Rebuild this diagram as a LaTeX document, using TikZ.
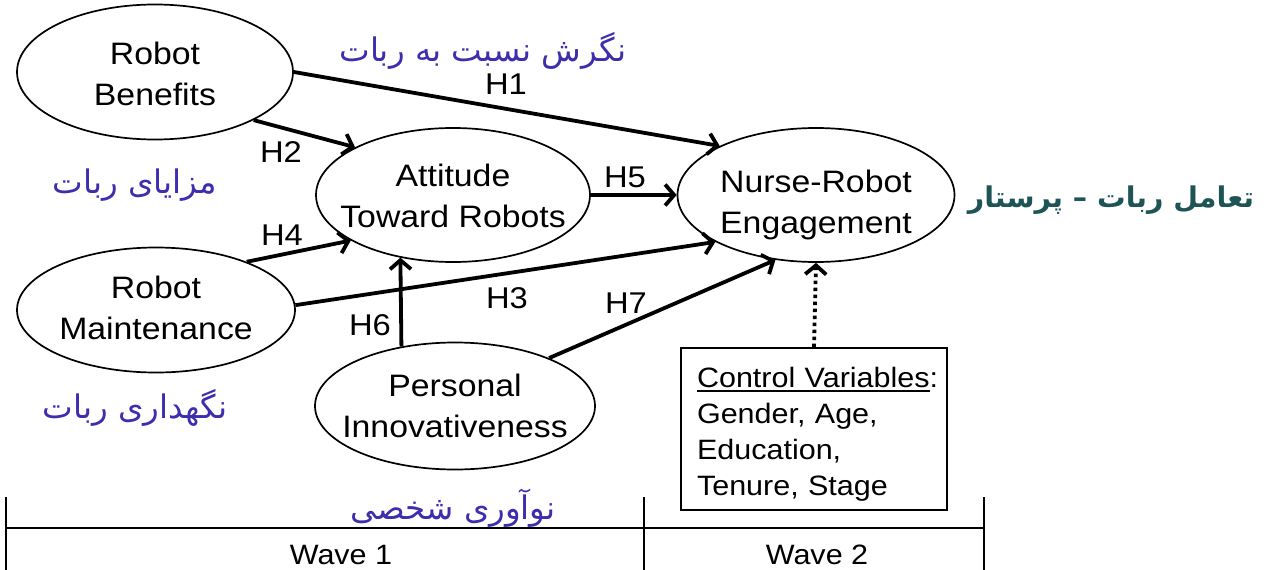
\documentclass[tikz,border=0pt]{standalone}
\usepackage{fontspec}
\setmainfont[FakeStretch=1.09]{Liberation Sans}
\newfontfamily\arabicfont[Script=Arabic]{DejaVu Sans}
\TeXXeTstate=1
\usetikzlibrary{shapes.geometric,arrows.meta}
\definecolor{fapurple}{RGB}{60,46,172}
\definecolor{fateal}{RGB}{30,84,86}
\newcommand{\myul}[1]{\setbox0=\hbox{#1}\rlap{\rule[-4.5pt]{\wd0}{2pt}}\box0}
\begin{document}
\begin{tikzpicture}[x=1pt,y=-1pt,
  construct/.style={ellipse,draw,line width=1.7pt,inner sep=0pt},
  ctext/.style={font=\fontsize{31}{41}\selectfont,align=center,text depth=0pt,inner sep=0pt},
  arr/.style={line width=3.8pt,-{Straight Barb[length=9pt,width=21pt]}},
  darr/.style={line width=3.8pt,dash pattern=on 3.5pt off 3.5pt,-{Straight Barb[length=9pt,width=21pt]}},
  hlab/.style={font=\fontsize{30}{34}\selectfont,inner sep=0pt},
  wlab/.style={font=\fontsize{28}{34}\selectfont,inner sep=0pt},
  fa/.style={font=\fontsize{32.5}{38}\selectfont\arabicfont,text=fapurple,inner sep=0pt},
  tl/.style={line width=1.8pt},
]
\useasboundingbox (0,0) rectangle (1267,570);

% constructs
\node[construct,minimum width=276pt,minimum height=135pt] (rb) at (155,72) {};
\node[ctext] (rbt) at (155,74) {Robot\\Benefits};
\node[construct,minimum width=274pt,minimum height=134pt] (att) at (453,195) {};
\node[ctext] (attt) at (453,196) {Attitude\\Toward Robots};
\node[construct,minimum width=277pt,minimum height=134pt] (ne) at (816,195) {};
\node[ctext] (net) at (816,202) {Nurse-Robot\\Engagement};
\node[construct,minimum width=278pt,minimum height=125pt] (rm) at (156,310) {};
\node[ctext] (rmt) at (156,308) {Robot\\Maintenance};
\node[construct,minimum width=280pt,minimum height=127pt] (pi) at (455,406) {};
\node[ctext] (pit) at (455,406) {Personal\\Innovativeness};

% control box
\node[draw,line width=1.7pt,minimum width=266pt,minimum height=162pt,text width=234pt,
      inner xsep=16pt,inner ysep=0pt,align=left,
      font=\fontsize{28}{36}\selectfont] (box) at (814,429)
  {\rule{0pt}{30pt}\myul{Control Variables}:\\Gender, Age,\\Education,\\Tenure, Stage};

% connectors
\draw[arr] (rb.east) -- (ne.153.7);
\draw[arr] (rb.-26) -- (att.154.4);
\draw[arr] (rm.28.6) -- (att.204.7);
\draw[arr] (rm.2.9) -- (ne.205);
\draw[arr] (att.east) -- (ne.west);
\draw[arr] (pi.132) -- (att.230.65);
\draw[arr] (pi.27.7) -- (ne.238.3);
\draw[darr] (box.north) -- (ne.south);

% hypothesis labels
\node[hlab] (h1) at (506,84) {H1};
\node[hlab] (h2) at (281,152) {H2};
\node[hlab] (h3) at (507,298) {H3};
\node[hlab] (h4) at (282,235) {H4};
\node[hlab] (h5) at (625,177) {H5};
\node[hlab] (h6) at (370,325) {H6};
\node[hlab] (h7) at (626,303) {H7};

% timeline
\coordinate (t0) at (6,528);
\coordinate (t1) at (644,528);
\coordinate (t2) at (984,528);
\draw[tl] (t0) -- (t2);
\draw[tl] (6,497) -- (6,570);
\draw[tl] (644,497) -- (644,570);
\draw[tl] (984,497) -- (984,570);
\node[wlab] (w1) at (341,555) {Wave 1};
\node[wlab] (w2) at (817,555) {Wave 2};

% Persian labels
\node[fa] (p1) at (483,51) {\beginR نگرش نسبت به ربات\endR};
\node[fa] (p2) at (135,185) {\beginR مزایای ربات\endR};
\node[fa] (p3) at (135,408) {\beginR نگهداری ربات\endR};
\node[fa] (p4) at (453,508) {\beginR نوآوری شخصی\endR};
\node[fa,text=fateal,font=\fontsize{28.5}{34}\selectfont\arabicfont\bfseries] (p5) at (1111,200) {\beginR تعامل ربات – پرستار\endR};
\end{tikzpicture}
\end{document}
